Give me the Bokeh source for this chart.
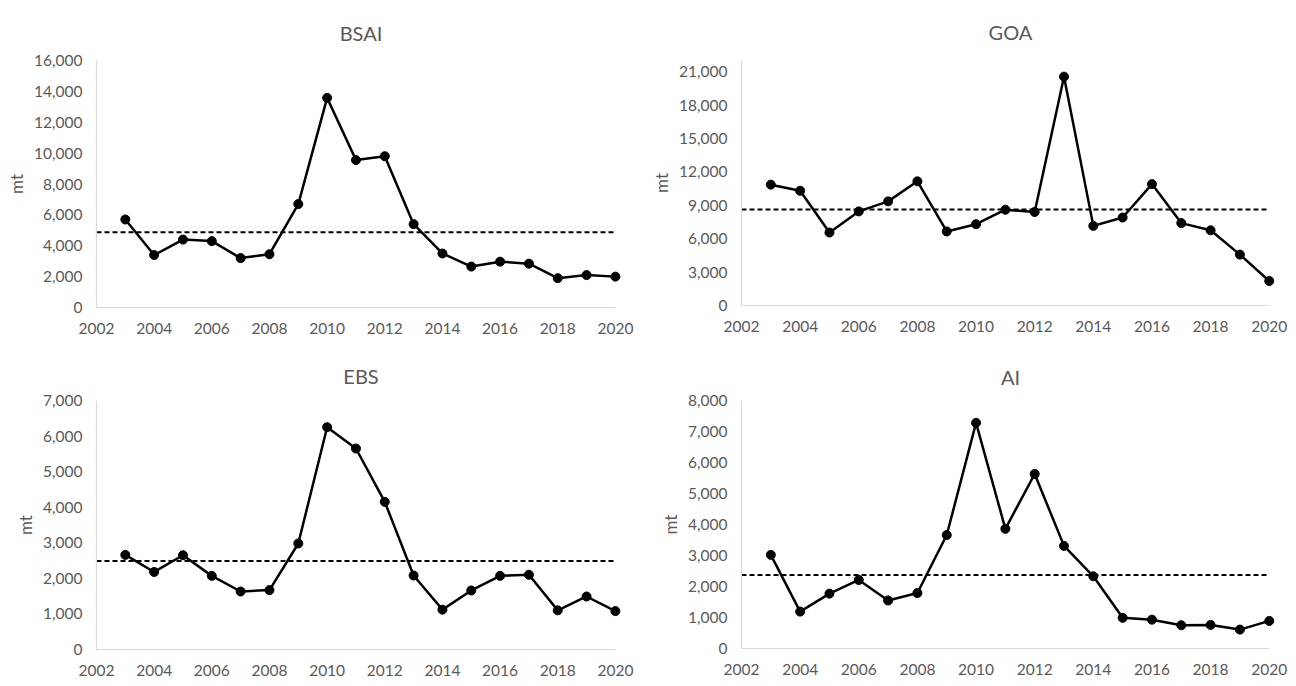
from bokeh.plotting import figure
from bokeh.layouts import gridplot
from bokeh.models import Range1d, FixedTicker, NumeralTickFormatter
from bokeh.embed import file_html
from bokeh.resources import INLINE

years = list(range(2003, 2021))

bsai = [5700, 3400, 4400, 4300, 3200, 3450, 6700, 13580, 9550, 9800,
        5400, 3500, 2650, 2970, 2840, 1900, 2100, 2000]
goa = [10850, 10300, 6550, 8450, 9350, 11150, 6650, 7300, 8600, 8400,
       20550, 7150, 7900, 10900, 7400, 6750, 4570, 2200]
ebs = [2660, 2180, 2650, 2070, 1630, 1670, 2980, 6250, 5650, 4150,
       2080, 1120, 1660, 2070, 2100, 1100, 1490, 1080]
ai = [3020, 1190, 1770, 2210, 1550, 1790, 3660, 7280, 3860, 5630,
      3310, 2330, 990, 930, 750, 760, 610, 890]

bsai_mean = 4870
goa_mean = 8630
ebs_mean = 2490
ai_mean = 2370

x_ticks = list(range(2002, 2021, 2))

GRAY = "#595959"
AXIS = "#d9d9d9"
FONT = "Lato"


def panel(title, values, mean, ymax, ystep, ytop, frame_w, frame_h,
          left, right, top, bottom, title_standoff):
    pad = 0.35  # room so the last marker is not clipped at the frame edge
    p = figure(
        frame_width=frame_w, frame_height=frame_h,
        x_range=Range1d(2002, 2020 + pad), y_range=Range1d(0, ytop),
        min_border_left=left, min_border_right=right,
        min_border_top=top, min_border_bottom=bottom,
        output_backend="svg", toolbar_location=None,
        background_fill_color="white", border_fill_color="white",
    )
    p.outline_line_color = None
    p.grid.visible = False

    p.title.text = title
    p.title.align = "center"
    p.title.text_font = FONT
    p.title.text_font_size = "20px"
    p.title.text_font_style = "normal"
    p.title.text_color = GRAY
    p.title.standoff = title_standoff

    xa = p.xaxis[0]
    xa.ticker = FixedTicker(ticks=x_ticks)
    xa.bounds = (2002, 2020)
    ya = p.yaxis[0]
    ya.ticker = FixedTicker(ticks=list(range(0, ymax + 1, ystep)))
    ya.bounds = (0, ytop)
    ya.formatter = NumeralTickFormatter(format="0,0")
    ya.axis_label = "mt"
    ya.axis_label_text_font = FONT
    ya.axis_label_text_font_size = "17px"
    ya.axis_label_text_font_style = "normal"
    ya.axis_label_text_color = GRAY
    ya.axis_label_standoff = 4

    for ax in (xa, ya):
        ax.axis_line_color = AXIS
        ax.axis_line_width = 1.2
        ax.major_tick_line_color = None
        ax.minor_tick_line_color = None
        ax.major_tick_out = 0
        ax.major_tick_in = 0
        ax.major_label_text_font = FONT
        ax.major_label_text_font_size = "15.5px"
        ax.major_label_text_color = GRAY
    xa.major_label_standoff = 15
    ya.major_label_standoff = 14

    p.line([2002, 2020], [mean, mean], line_color="black",
           line_width=2, line_dash="5 3")
    p.line(years, values, line_color="black", line_width=2.5)
    p.scatter(years, values, size=9, marker="circle",
              fill_color="black", line_color="black")
    return p


p1 = panel("BSAI", bsai, bsai_mean, 16000, 2000, 16000,
           529, 247, 96, 23, 60, 36, 31)
p2 = panel("GOA", goa, goa_mean, 21000, 3000, 22000,
           538, 245, 92, 18, 60, 38, 33)
p3 = panel("EBS", ebs, ebs_mean, 7000, 1000, 7000,
           529, 249, 96, 23, 53, 41, 26)
p4 = panel("AI", ai, ai_mean, 8000, 1000, 8000,
           538, 248, 92, 18, 57, 38, 23)

grid = gridplot([[p1, p2], [p3, p4]], toolbar_location=None)

open("out.html", "w").write(file_html(grid, INLINE))
